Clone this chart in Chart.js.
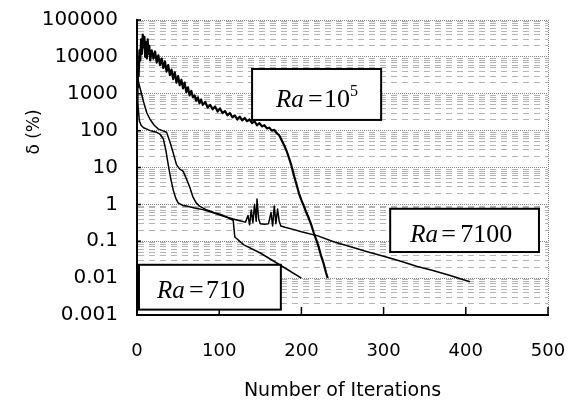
<!DOCTYPE html>
<html>
<head>
<meta charset="utf-8">
<script src="https://cdn.jsdelivr.net/npm/chart.js@4.4.0/dist/chart.umd.min.js"></script>
<style>
  html, body { margin: 0; padding: 0; background: #fff; }
</style>
</head>
<body>
<canvas id="Chart" width="568" height="403"></canvas>
<script>
// values: iteration number / delta (%)
const iterRa1e5 = [0, 1, 2, 3, 4, 5, 6, 7, 8, 9, 10, 11, 12, 13, 14, 15, 16, 18, 20, 22, 24, 26, 28, 30, 32, 34, 36, 38, 40, 42, 44, 46, 48, 50, 52, 54, 56, 58, 60, 62, 64, 66, 68, 70, 72, 74, 76, 78, 80, 83, 86, 89, 92, 95, 98, 101, 104, 107, 110, 113, 116, 119, 122, 125, 128, 131, 134, 137, 140, 143, 146, 149, 152, 155, 158, 161, 164, 167, 170, 173, 176, 179, 182, 185, 188, 191, 194, 197, 200, 203, 206, 209, 212, 215, 218, 221, 224, 227, 230, 232];
const deltaRa1e5 = [1500, 6000, 3000, 15000, 8000, 30000, 12000, 40000, 18000, 35000, 10000, 25000, 9000, 30000, 12000, 20000, 8000, 15000, 9000, 14000, 7000, 11000, 6000, 9000, 5000, 7500, 4000, 6000, 3200, 4500, 2500, 3800, 2000, 3000, 1700, 2400, 1400, 2000, 1100, 1500, 900, 1200, 800, 900, 650, 800, 550, 700, 500, 600, 420, 500, 380, 450, 330, 400, 300, 340, 260, 300, 230, 260, 200, 240, 190, 220, 180, 200, 160, 180, 140, 160, 130, 140, 115, 120, 100, 105, 85, 75, 55, 40, 28, 18, 11, 6, 3.5, 2, 1.3, 0.9, 0.6, 0.42, 0.28, 0.17, 0.11, 0.07, 0.04, 0.025, 0.014, 0.01];

const iterRa7100 = [0, 2, 5, 8, 12, 16, 21, 26, 31, 36, 40, 44, 48, 52, 56, 60, 64, 68, 72, 76, 80, 85, 90, 95, 100, 105, 110, 117, 125, 132, 135, 137, 139, 141, 143, 145, 146, 148, 150, 155, 160, 163, 165, 167, 169, 171, 173, 175, 180, 190, 200, 220, 240, 260, 280, 300, 320, 340, 360, 380, 405];
const deltaRa7100 = [4000, 2000, 1100, 600, 300, 200, 140, 110, 100, 90, 50, 25, 12, 9, 8, 5, 3, 1.6, 1.1, 0.9, 0.8, 0.7, 0.65, 0.58, 0.55, 0.5, 0.45, 0.4, 0.36, 0.33, 0.5, 0.28, 0.7, 0.32, 1.0, 0.35, 1.4, 0.4, 0.3, 0.29, 0.3, 0.6, 0.26, 0.9, 0.3, 0.75, 0.35, 0.26, 0.24, 0.21, 0.18, 0.14, 0.095, 0.071, 0.052, 0.039, 0.029, 0.021, 0.016, 0.012, 0.008];

const iterRa710 = [0, 1, 2, 3, 5, 8, 12, 16, 20, 24, 28, 32, 35, 38, 41, 44, 47, 50, 55, 60, 70, 80, 90, 100, 110, 117, 119, 130, 150, 175, 200];
const deltaRa710 = [2000, 600, 300, 180, 140, 120, 110, 100, 95, 90, 80, 60, 30, 12, 5, 2.5, 1.5, 1.1, 0.95, 0.9, 0.8, 0.72, 0.62, 0.52, 0.44, 0.37, 0.13, 0.08, 0.048, 0.022, 0.01];

const xTicks = [0, 100, 200, 300, 400, 500];
const yMajor = [0.001, 0.01, 0.1, 1, 10, 100, 1000, 10000, 100000];
const yTickLabels = ["0.001", "0.01", "0.1", "1", "10", "100", "1000", "10000", "100000"];

const xTitle = "Number of Iterations";
const yTitle = "δ (%)";

// boxed labels, position in data units
const notes = [
  { text: "10", sup: "5", x0: 140, x1: 297, y0: 4700, y1: 195, off: [24, 56, 72, 98], base: 38 },
  { text: "7100", sup: "", x0: 308, x1: 489, y0: 0.76, y1: 0.051, off: [20, 51, 70, 0], base: 33 },
  { text: "710", sup: "", x0: 2.4, x1: 175, y0: 0.023, y1: 0.0014, off: [18, 50, 67, 0], base: 33 },
];

function pts(xs, ys) {
  return xs.map((x, i) => ({ x: x, y: ys[i] }));
}

// all y grid values: each decade plus 2..9 between
const yGrid = [];
yMajor.forEach((v, i) => {
  yGrid.push({ value: v, major: true });
  if (i < yMajor.length - 1) {
    for (let k = 2; k <= 9; k++) yGrid.push({ value: v * k, major: false });
  }
});

const extras = {
  id: "extras",
  afterDatasetsDraw(chart) {
    const ctx = chart.ctx;
    const xs = chart.scales.x;
    const ys = chart.scales.y;
    const area = chart.chartArea;
    ctx.save();
    // inner tick marks
    ctx.strokeStyle = "#000";
    ctx.lineWidth = 1.5;
    ctx.beginPath();
    xTicks.forEach((v) => {
      const px = xs.getPixelForValue(v);
      ctx.moveTo(px, area.bottom);
      ctx.lineTo(px, area.bottom - 8);
    });
    yMajor.forEach((v) => {
      const py = ys.getPixelForValue(v);
      ctx.moveTo(area.left, py);
      ctx.lineTo(area.left + 4, py);
    });
    ctx.stroke();

    // boxed Ra labels
    notes.forEach((n) => {
      const l = xs.getPixelForValue(n.x0);
      const r = xs.getPixelForValue(n.x1);
      const t = ys.getPixelForValue(n.y0);
      const b = ys.getPixelForValue(n.y1);
      ctx.fillStyle = "#fff";
      ctx.fillRect(l, t, r - l, b - t);
      ctx.strokeStyle = "#000";
      ctx.lineWidth = 2;
      ctx.strokeRect(l, t, r - l, b - t);
      ctx.fillStyle = "#000";
      ctx.textBaseline = "alphabetic";
      ctx.textAlign = "left";
      ctx.font = 'italic 25px "Liberation Serif"';
      ctx.fillText("Ra", l + n.off[0], t + n.base);
      ctx.font = '26px "Liberation Serif"';
      ctx.fillText("=", l + n.off[1], t + n.base);
      ctx.fillText(n.text, l + n.off[2], t + n.base);
      if (n.sup) {
        ctx.font = '16px "Liberation Serif"';
        ctx.fillText(n.sup, l + n.off[3], t + n.base - 11);
      }
    });

    // y title
    ctx.translate(35, 132);
    ctx.rotate(-Math.PI / 2);
    ctx.font = '17px "DejaVu Sans"';
    ctx.textAlign = "center";
    ctx.textBaseline = "middle";
    ctx.fillStyle = "#000";
    ctx.fillText(yTitle, 0, 0);
    ctx.restore();
  },
};

const chart = new Chart(document.getElementById("Chart"), {
  type: "line",
  data: {
    datasets: [
      { data: pts(iterRa1e5, deltaRa1e5), borderColor: "#000", borderWidth: 2.2 },
      { data: pts(iterRa7100, deltaRa7100), borderColor: "#000", borderWidth: 1.5 },
      { data: pts(iterRa710, deltaRa710), borderColor: "#000", borderWidth: 1.5 },
    ],
  },
  options: {
    responsive: false,
    animation: false,
    elements: {
      point: { radius: 0 },
      line: { tension: 0, borderJoinStyle: "round" },
    },
    layout: { padding: { top: 20, right: 20, left: 0, bottom: 0 } },
    plugins: {
      legend: { display: false },
      tooltip: { enabled: false },
    },
    scales: {
      x: {
        type: "linear",
        min: 0,
        max: 500,
        afterFit: (s) => { s.height = 88; s.paddingLeft = 0; s.paddingRight = 0; },
        afterBuildTicks: (s) => { s.ticks = xTicks.map((v) => ({ value: v })); },
        grid: {
          drawTicks: false,
          color: (c) => (c.tick && c.tick.value === 500 ? "#888" : "rgba(0,0,0,0)"),
        },
        border: { display: true, color: "#000", width: 2, dash: [1, 1] },
        ticks: {
          padding: 26,
          color: "#000",
          font: { family: "DejaVu Sans", size: 18 },
        },
        title: {
          display: true,
          text: xTitle,
          color: "#000",
          font: { family: "DejaVu Sans", size: 19 },
          padding: { top: 0, bottom: 1 },
        },
      },
      y: {
        type: "logarithmic",
        min: 0.001,
        max: 100000,
        afterFit: (s) => { s.width = 137; s.paddingTop = 0; s.paddingBottom = 0; },
        afterBuildTicks: (s) => { s.ticks = yGrid.map((t) => ({ value: t.value, major: t.major })); },
        grid: {
          drawTicks: false,
          color: (c) => (c.tick && c.tick.major ? "#8a8a8a" : "#b4b4b4"),
        },
        border: {
          display: true,
          color: "#000",
          width: 2,
          dash: (c) => (c.tick && c.tick.major ? [1, 1] : [6, 5]),
        },
        ticks: {
          autoSkip: false,
          padding: 19,
          color: "#000",
          font: { family: "DejaVu Sans", size: 20 },
          callback: (v, i, ticks) => {
            const k = yMajor.indexOf(ticks[i].value);
            return k >= 0 ? yTickLabels[k] : "";
          },
        },
      },
    },
  },
  plugins: [extras],
});
</script>
</body>
</html>
